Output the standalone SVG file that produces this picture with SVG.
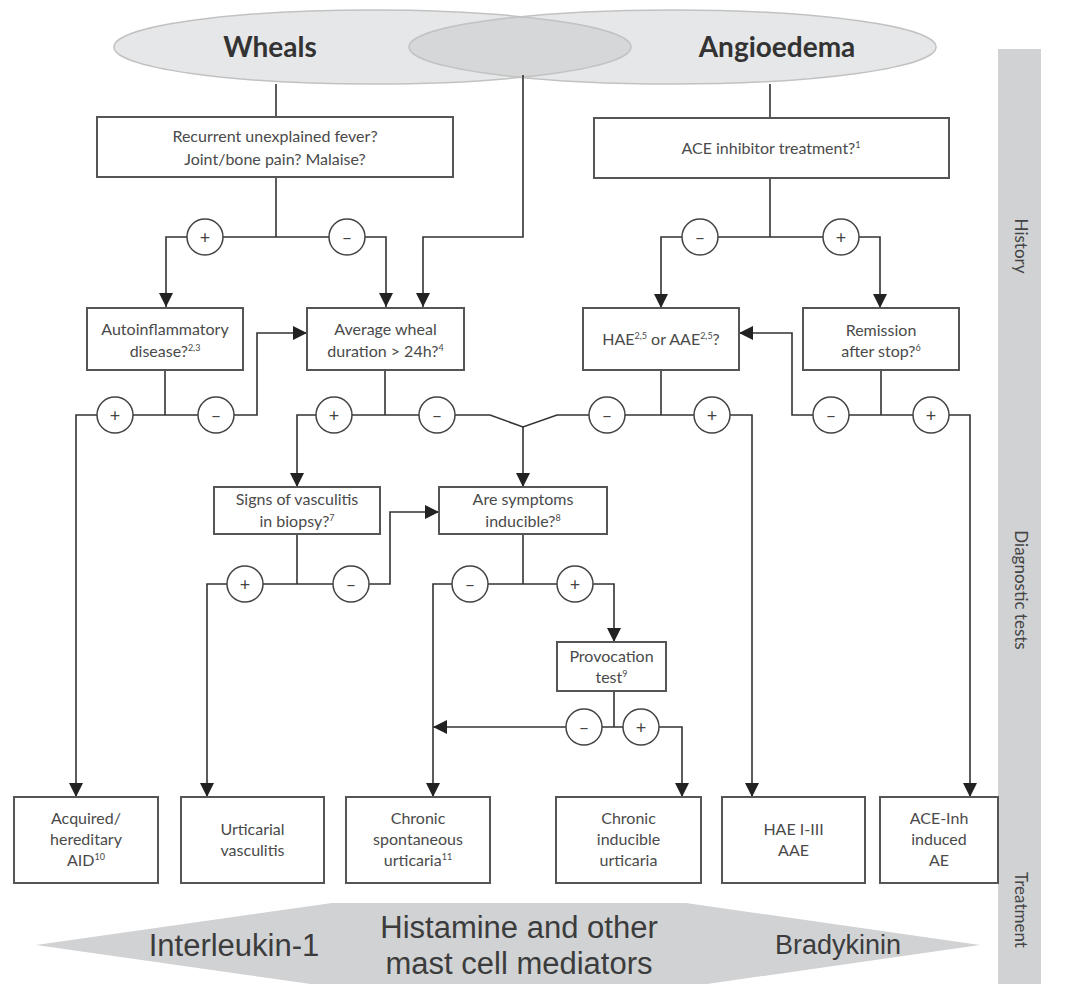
<svg xmlns="http://www.w3.org/2000/svg" width="1091" height="984" viewBox="0 0 1091 984">
<style>
.box{fill:#fff;stroke:#555;stroke-width:2}
.t{font-family:Lato,"Open Sans",sans-serif;font-size:16px;fill:#4a4a4a;text-anchor:middle}
.title{font-family:Lato,"Open Sans",sans-serif;font-size:28px;font-weight:bold;fill:#333;text-anchor:middle}
.big{font-family:"Liberation Sans",Arial,sans-serif;font-size:31px;fill:#3c3c3c;text-anchor:middle}
.side{font-family:Lato,"Open Sans",sans-serif;font-size:17px;fill:#444;text-anchor:middle;dominant-baseline:central}
.sup{font-size:9px}
.ln{fill:none;stroke:#333;stroke-width:1.6}
.ar{fill:none;stroke:#333;stroke-width:1.6;marker-end:url(#ah)}
.c{fill:#fff;stroke:#444;stroke-width:1.5}
.s{font-family:Lato,"Open Sans",sans-serif;font-size:18px;fill:#444;text-anchor:middle;dominant-baseline:central}
</style>
<defs>
<marker id="ah" markerWidth="15" markerHeight="15" refX="14" refY="7" orient="auto" markerUnits="userSpaceOnUse">
<path d="M0,0 L14,7 L0,14 z" fill="#222"/>
</marker>
<clipPath id="whealsClip"><ellipse cx="372.5" cy="47" rx="258.5" ry="37"/></clipPath>
</defs>
<rect width="1091" height="984" fill="#fff"/>

<g id="side-bar">
<rect x="998" y="49" width="43" height="935" fill="#d1d2d4"/>
<text class="side" transform="rotate(90 1021 246)" x="1021" y="246">History</text>
<text class="side" transform="rotate(90 1021 590)" x="1021" y="590">Diagnostic tests</text>
<text class="side" transform="rotate(90 1021 910)" x="1021" y="910">Treatment</text>
</g>

<g id="ellipses">
<ellipse cx="372.5" cy="47" rx="258.5" ry="37" fill="#e6e7e8"/>
<ellipse cx="672.5" cy="47" rx="263.5" ry="37" fill="#e6e7e8"/>
<ellipse cx="672.5" cy="47" rx="263.5" ry="37" fill="#d6d7d9" clip-path="url(#whealsClip)"/>
<ellipse cx="372.5" cy="47" rx="258.5" ry="37" fill="none" stroke="#c2c2c2" stroke-width="1.5"/>
<ellipse cx="672.5" cy="47" rx="263.5" ry="37" fill="none" stroke="#c2c2c2" stroke-width="1.5"/>
</g>
<g id="wheals"><text class="title" x="270" y="57">Wheals</text></g>
<g id="angioedema"><text class="title" x="777" y="57">Angioedema</text></g>

<g id="connectors">
<path class="ln" d="M276,84 V117"/>
<path class="ln" d="M276,177 V237"/>
<path class="ar" d="M276,237 H166 V307"/>
<path class="ar" d="M276,237 H386 V307"/>
<path class="ar" d="M523,75 V237 H423 V307"/>
<path class="ln" d="M770,84 V118"/>
<path class="ln" d="M770,178 V237"/>
<path class="ar" d="M770,237 H661 V308"/>
<path class="ar" d="M770,237 H880 V308"/>
<path class="ln" d="M165,370 V415"/>
<path class="ar" d="M165,415 H76 V797"/>
<path class="ar" d="M165,415 H257 V333 H307"/>
<path class="ln" d="M385,370 V415"/>
<path class="ar" d="M385,415 H297 V487"/>
<path class="ln" d="M385,415 H490 L523,427 L557,415 H661"/>
<path class="ln" d="M661,370 V415"/>
<path class="ar" d="M661,415 H752 V797"/>
<path class="ar" d="M523,427 V487"/>
<path class="ln" d="M881,370 V415"/>
<path class="ar" d="M881,415 H792 V333 H739"/>
<path class="ar" d="M881,415 H970 V797"/>
<path class="ln" d="M297,534 V584"/>
<path class="ar" d="M297,584 H207 V797"/>
<path class="ar" d="M297,584 H390 V512 H439"/>
<path class="ln" d="M523,534 V584"/>
<path class="ar" d="M523,584 H433 V797"/>
<path class="ar" d="M523,584 H614 V642"/>
<path class="ln" d="M614,691 V727"/>
<path class="ar" d="M614,727 H433"/>
<path class="ar" d="M614,727 H682 V797"/>
</g>

<g id="branch-labels">
<circle class="c" cx="205" cy="237" r="18"/><text class="s" x="205" y="237">+</text>
<circle class="c" cx="347" cy="237" r="18"/><text class="s" x="347" y="237">–</text>
<circle class="c" cx="700" cy="237" r="18"/><text class="s" x="700" y="237">–</text>
<circle class="c" cx="841" cy="237" r="18"/><text class="s" x="841" y="237">+</text>
<circle class="c" cx="115" cy="415" r="18"/><text class="s" x="115" y="415">+</text>
<circle class="c" cx="216" cy="415" r="18"/><text class="s" x="216" y="415">–</text>
<circle class="c" cx="334" cy="415" r="18"/><text class="s" x="334" y="415">+</text>
<circle class="c" cx="437" cy="415" r="18"/><text class="s" x="437" y="415">–</text>
<circle class="c" cx="607" cy="415" r="18"/><text class="s" x="607" y="415">–</text>
<circle class="c" cx="712" cy="415" r="18"/><text class="s" x="712" y="415">+</text>
<circle class="c" cx="831" cy="415" r="18"/><text class="s" x="831" y="415">–</text>
<circle class="c" cx="931" cy="415" r="18"/><text class="s" x="931" y="415">+</text>
<circle class="c" cx="245" cy="584" r="18"/><text class="s" x="245" y="584">+</text>
<circle class="c" cx="351" cy="584" r="18"/><text class="s" x="351" y="584">–</text>
<circle class="c" cx="470" cy="584" r="18"/><text class="s" x="470" y="584">–</text>
<circle class="c" cx="575" cy="584" r="18"/><text class="s" x="575" y="584">+</text>
<circle class="c" cx="584" cy="727" r="18"/><text class="s" x="584" y="727">–</text>
<circle class="c" cx="641" cy="727" r="18"/><text class="s" x="641" y="727">+</text>
</g>

<g id="recurrent-fever">
<rect class="box" x="97" y="117" width="356" height="60"/>
<text class="t" x="275" y="142">Recurrent unexplained fever?</text>
<text class="t" x="275" y="165">Joint/bone pain? Malaise?</text>
</g>
<g id="ace-treatment">
<rect class="box" x="594" y="118" width="355" height="60"/>
<text class="t" x="771" y="154">ACE inhibitor treatment?<tspan class="sup" dy="-6">1</tspan></text>
</g>
<g id="autoinflammatory">
<rect class="box" x="87" y="308" width="156" height="62"/>
<text class="t" x="165" y="335">Autoinflammatory</text>
<text class="t" x="165" y="357">disease?<tspan class="sup" dy="-6">2,3</tspan></text>
</g>
<g id="wheal-duration">
<rect class="box" x="307" y="308" width="157" height="62"/>
<text class="t" x="385.5" y="335">Average wheal</text>
<text class="t" x="385.5" y="357">duration &gt; 24h?<tspan class="sup" dy="-6">4</tspan></text>
</g>
<g id="hae-aae">
<rect class="box" x="583" y="308" width="156" height="62"/>
<text class="t" x="661" y="345">HAE<tspan class="sup" dy="-6">2,5</tspan><tspan dy="6"> or AAE</tspan><tspan class="sup" dy="-6">2,5</tspan><tspan dy="6">?</tspan></text>
</g>
<g id="remission">
<rect class="box" x="803" y="308" width="156" height="62"/>
<text class="t" x="881" y="336">Remission</text>
<text class="t" x="881" y="357">after stop?<tspan class="sup" dy="-6">6</tspan></text>
</g>
<g id="vasculitis-biopsy">
<rect class="box" x="214" y="487" width="166" height="47"/>
<text class="t" x="297" y="505">Signs of vasculitis</text>
<text class="t" x="297" y="527">in biopsy?<tspan class="sup" dy="-6">7</tspan></text>
</g>
<g id="inducible">
<rect class="box" x="439" y="487" width="168" height="47"/>
<text class="t" x="523" y="505">Are symptoms</text>
<text class="t" x="523" y="527">inducible?<tspan class="sup" dy="-6">8</tspan></text>
</g>
<g id="provocation">
<rect class="box" x="557" y="642" width="109" height="49"/>
<text class="t" x="611.5" y="662">Provocation</text>
<text class="t" x="611.5" y="683">test<tspan class="sup" dy="-6">9</tspan></text>
</g>
<g id="aid">
<rect class="box" x="14" y="797" width="144" height="86"/>
<text class="t" x="86" y="824">Acquired/</text>
<text class="t" x="86" y="845">hereditary</text>
<text class="t" x="86" y="866">AID<tspan class="sup" dy="-6">10</tspan></text>
</g>
<g id="urticarial-vasculitis">
<rect class="box" x="181" y="797" width="143" height="86"/>
<text class="t" x="252.5" y="835">Urticarial</text>
<text class="t" x="252.5" y="856">vasculitis</text>
</g>
<g id="csu">
<rect class="box" x="346" y="797" width="144" height="86"/>
<text class="t" x="418" y="824">Chronic</text>
<text class="t" x="418" y="845">spontaneous</text>
<text class="t" x="418" y="866">urticaria<tspan class="sup" dy="-6">11</tspan></text>
</g>
<g id="cindu">
<rect class="box" x="556" y="797" width="145" height="86"/>
<text class="t" x="628.5" y="824">Chronic</text>
<text class="t" x="628.5" y="845">inducible</text>
<text class="t" x="628.5" y="866">urticaria</text>
</g>
<g id="hae-types">
<rect class="box" x="722" y="797" width="143" height="86"/>
<text class="t" x="793.5" y="835">HAE I-III</text>
<text class="t" x="793.5" y="856">AAE</text>
</g>
<g id="ace-ae">
<rect class="box" x="880" y="797" width="118" height="86"/>
<text class="t" x="939" y="824">ACE-Inh</text>
<text class="t" x="939" y="845">induced</text>
<text class="t" x="939" y="866">AE</text>
</g>

<g id="mediators">
<polygon points="36,945 332,903 686,903 980,945 686,987 332,987" fill="#d1d2d4"/>
<text class="big" x="234" y="956">Interleukin-1</text>
<text class="big" x="519" y="938">Histamine and other</text>
<text class="big" x="519" y="974">mast cell mediators</text>
<text class="big" x="838" y="954" style="font-size:27px">Bradykinin</text>
</g>
</svg>
